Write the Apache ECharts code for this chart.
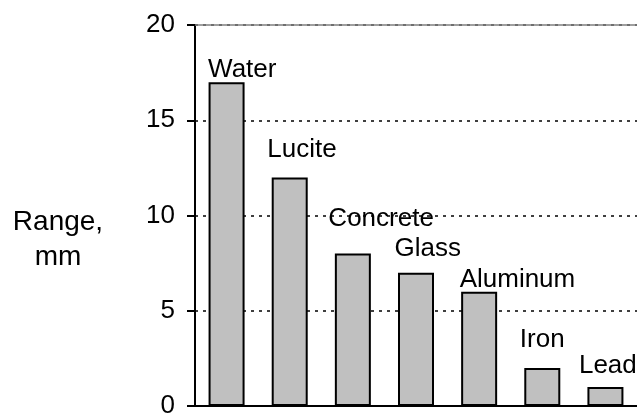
<!DOCTYPE html>
<html>
<head>
<meta charset="utf-8">
<script src="https://cdn.jsdelivr.net/npm/echarts@6/dist/echarts.min.js"></script>
<style>html,body{margin:0;padding:0;background:#fff}#c{width:637px;height:419px}</style>
</head>
<body>
<div id="c"></div>
<script>
const categories = ['Water', 'Lucite', 'Concrete', 'Glass', 'Aluminum', 'Iron', 'Lead'];
const ranges = [17, 12, 8, 7, 6, 2, 1];
const yTicks = [0, 5, 10, 15, 20];
const axisTitle = 'Range,\nmm';
// label placement tweaks (pixels), style only
const labelDx = [-18.5, -22.5, -24.5, -21.5, -19.5, -22.5, -26.5];
const labelDy = [1, -15, -22, -11, 1.5, -15, -8];

const FONT = '"Liberation Sans", Arial, sans-serif';
const chart = echarts.init(document.getElementById('c'), null, {renderer: 'canvas'});
chart.setOption({
  animation: false,
  backgroundColor: '#fff',
  grid: {left: 195, right: 0, top: 25, bottom: 8, containLabel: false},
  xAxis: [{
    type: 'category',
    data: categories,
    axisLine: {show: true, lineStyle: {color: '#000', width: 2}},
    axisTick: {show: false},
    axisLabel: {show: false},
    splitLine: {show: false}
  }, {
    type: 'category',
    position: 'top',
    data: categories,
    axisLine: {show: true, lineStyle: {color: '#808080', width: 1.5}},
    axisTick: {show: false},
    axisLabel: {show: false}
  }],
  yAxis: {
    type: 'value',
    min: yTicks[0],
    max: yTicks[yTicks.length - 1],
    interval: 5,
    axisLine: {show: true, lineStyle: {color: '#000', width: 2}},
    axisTick: {show: true, length: 8, lineStyle: {color: '#000', width: 2}},
    axisLabel: {margin: 20, color: '#000', fontSize: 26, fontFamily: FONT},
    splitLine: {show: true, lineStyle: {color: '#000', width: 1.5, type: [3, 5]}}
  },
  graphic: [{
    type: 'text',
    x: 58, y: 205,
    style: {
      text: axisTitle,
      fill: '#000',
      font: '28px ' + FONT,
      lineHeight: 35,
      textAlign: 'center',
      textVerticalAlign: 'top'
    }
  }],
  series: [{
    type: 'bar',
    xAxisIndex: 0,
    barWidth: 36,
    itemStyle: {color: '#c0c0c0', borderColor: '#000', borderWidth: 2},
    label: {
      show: true,
      position: 'top',
      distance: 0,
      align: 'left',
      verticalAlign: 'bottom',
      color: '#000',
      fontSize: 26,
      fontFamily: FONT,
      formatter: p => categories[p.dataIndex]
    },
    data: ranges.map((v, i) => ({value: v, label: {offset: [labelDx[i], labelDy[i]]}}))
  }]
});
</script>
</body>
</html>
